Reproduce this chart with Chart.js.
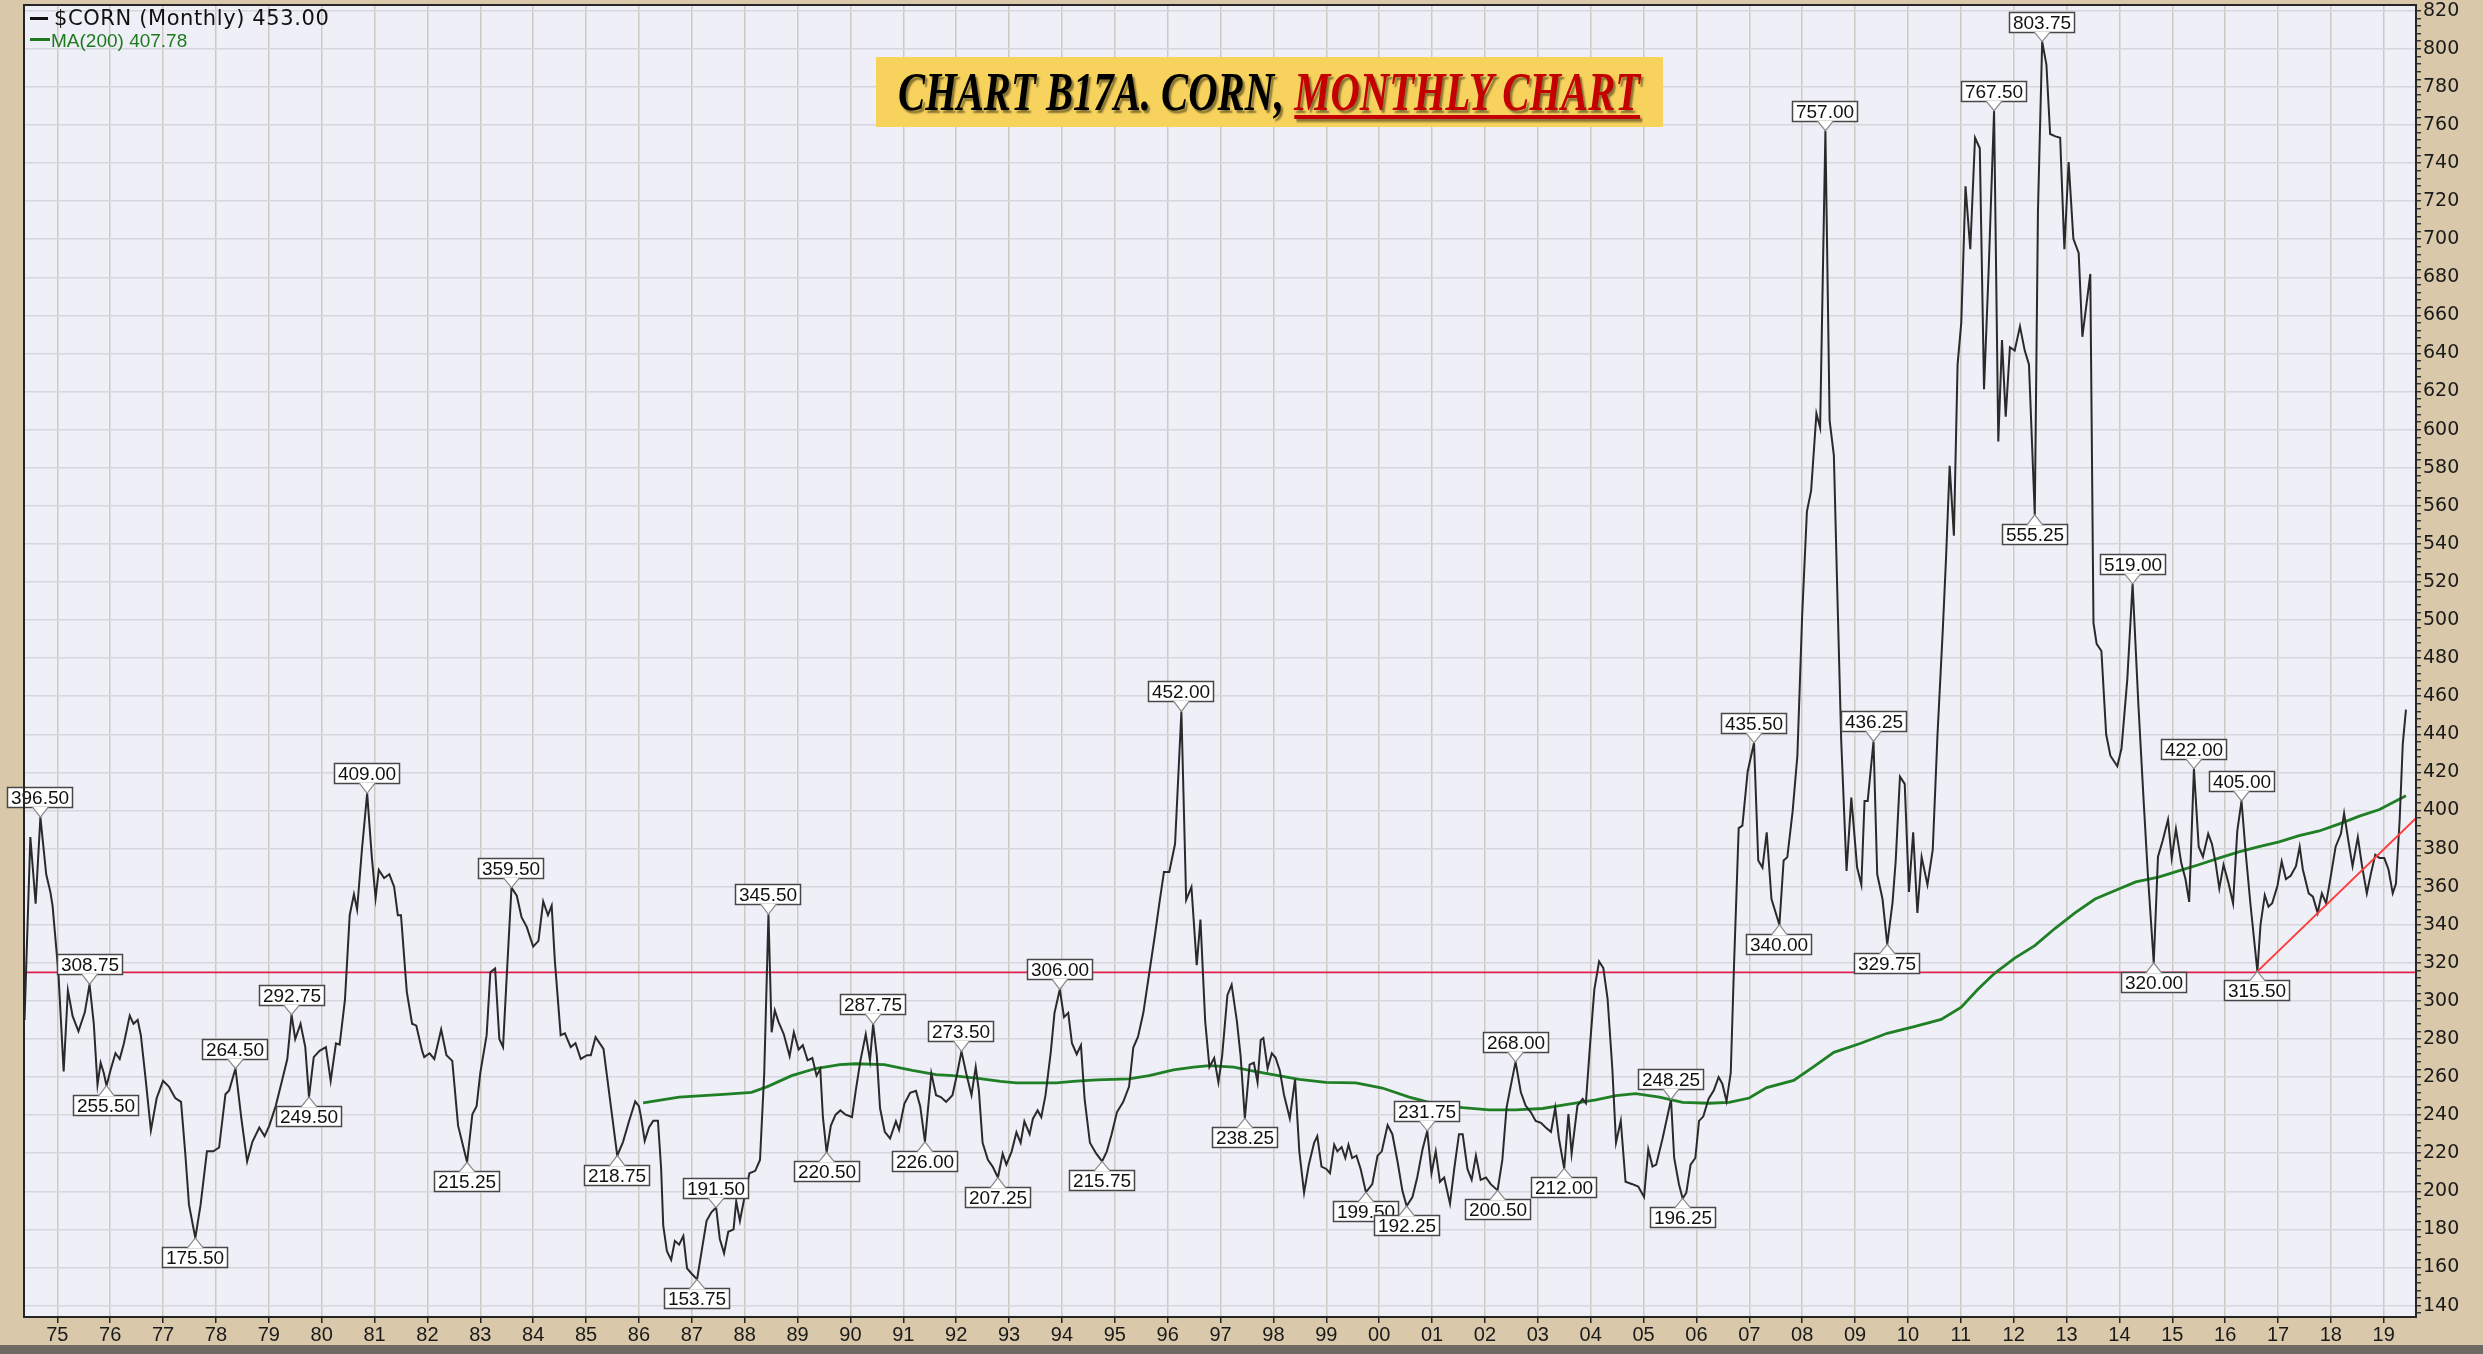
<!DOCTYPE html>
<html>
<head>
<meta charset="utf-8">
<title>$CORN Monthly</title>
<script src="https://cdn.jsdelivr.net/npm/chart.js@4.4.1/dist/chart.umd.min.js"></script>
<style>
  html, body { margin: 0; padding: 0; }
  body { width: 2483px; height: 1354px; background: #D9C9AA; position: relative; overflow: hidden; }
  #chart { position: absolute; left: 0; top: 0; }
  #footer { position: absolute; left: 0; top: 1345px; width: 2483px; height: 9px; background: #6E6A63; }
  .legend { position: absolute; white-space: nowrap; }
  #leg1 { left: 54px; top: 8px; font: 21px/21px "DejaVu Sans", sans-serif; letter-spacing: 0.6px; color: #111; }
  #leg2 { left: 51px; top: 31px; font: 19px/19px "Liberation Sans", Arial, sans-serif; color: #1E7A1E; }
  .dash { position: absolute; height: 3px; }
  #dash1 { left: 30px; top: 17px; width: 18px; background: #111; }
  #dash2 { left: 30px; top: 38px; width: 20px; background: #1E7A1E; }
  #title { position: absolute; left: 876px; top: 57px; width: 787px; height: 70px; background: #F7D35D;
           display: flex; align-items: center; justify-content: center; overflow: hidden; }
  #ttext { display: inline-block; white-space: pre; font: italic bold 54px "Liberation Serif", "DejaVu Serif", serif;
           text-shadow: 3px 3px 2px rgba(0,0,0,0.45); transform-origin: center center; }
  #ttext .blk { color: #000; }
  #ttext .red { color: #C40000; text-decoration: underline; text-decoration-thickness: 4px; text-underline-offset: 5px; }
</style>
</head>
<body>
<canvas id="chart" width="2483" height="1354"></canvas>
<div id="footer"></div>
<div class="dash" id="dash1"></div><div class="legend" id="leg1"></div>
<div class="dash" id="dash2"></div><div class="legend" id="leg2"></div>
<div id="title"><span id="ttext"><span class="blk">CHART B17A. CORN, </span><span class="red">MONTHLY CHART</span></span></div>
<script>
// Monthly corn closes (decimal year, cents per bushel)
const priceDates = [
  1974.38,1974.49,1974.59,1974.68,1974.79,1974.87,1974.91,1975.02,1975.12,1975.20,1975.29,1975.40,1975.52,1975.61,1975.69,1975.76,1975.82,1975.88,1975.93,
  1976.01,1976.10,1976.18,1976.26,1976.37,1976.44,1976.52,1976.58,1976.67,1976.77,1976.88,1977.00,1977.11,1977.23,1977.34,1977.42,1977.49,1977.61,1977.71,
  1977.83,1977.95,1978.06,1978.18,1978.25,1978.37,1978.48,1978.59,1978.69,1978.82,1978.92,1979.01,1979.13,1979.24,1979.35,1979.43,1979.50,1979.60,1979.69,
  1979.76,1979.85,1979.96,1980.08,1980.17,1980.27,1980.34,1980.44,1980.53,1980.61,1980.67,1980.76,1980.86,1980.95,1981.02,1981.08,1981.18,1981.28,1981.37,
  1981.44,1981.50,1981.56,1981.61,1981.71,1981.79,1981.90,1981.94,1982.04,1982.13,1982.26,1982.36,1982.47,1982.58,1982.75,1982.85,1982.93,1983.00,1983.12,
  1983.19,1983.28,1983.36,1983.43,1983.50,1983.59,1983.69,1983.78,1983.88,1984.00,1984.10,1984.19,1984.28,1984.35,1984.41,1984.52,1984.60,1984.71,1984.80,
  1984.90,1985.02,1985.09,1985.18,1985.33,1985.46,1985.59,1985.70,1985.81,1985.93,1986.00,
  1986.04,1986.11,1986.19,1986.27,1986.36,1986.42,1986.46,1986.53,1986.61,1986.68,1986.76,1986.84,1986.91,1986.99,1987.10,1987.20,1987.28,1987.37,1987.46,
  1987.53,1987.61,1987.69,1987.79,1987.84,1987.91,1987.99,1988.09,1988.20,1988.29,1988.37,1988.45,1988.51,1988.57,1988.64,1988.74,1988.85,1988.93,1989.02,
  1989.10,1989.19,1989.28,1989.36,1989.43,1989.48,1989.55,1989.63,1989.72,1989.81,1989.91,1990.03,1990.10,1990.19,1990.29,1990.37,1990.43,1990.50,1990.56,
  1990.65,1990.75,1990.86,1990.92,1991.02,1991.13,1991.24,1991.32,1991.41,1991.53,1991.62,1991.71,1991.81,1991.93,1992.02,1992.10,1992.19,1992.29,1992.37,
  1992.43,1992.50,1992.60,1992.69,1992.79,1992.88,1992.95,1993.05,1993.14,1993.22,1993.29,1993.39,1993.45,1993.54,1993.61,1993.69,1993.79,1993.86,1993.96,
  1994.04,1994.12,1994.19,1994.28,1994.36,1994.43,1994.53,1994.65,1994.76,1994.85,1994.94,1995.04,1995.16,1995.27,1995.35,1995.44,1995.54,1995.65,1995.76,
  1995.84,1995.93,1996.03,1996.14,1996.26,1996.35,1996.45,1996.55,1996.62,1996.71,1996.79,1996.88,1996.96,1997.03,1997.13,1997.21,1997.31,1997.38,1997.46,
  1997.55,1997.63,1997.70,1997.76,1997.81,1997.89,1997.97,
  1998.04,1998.12,1998.20,1998.31,1998.41,1998.49,1998.58,1998.67,1998.77,1998.83,1998.91,1999.00,1999.07,1999.15,1999.21,1999.29,1999.36,1999.42,1999.49,
  1999.57,1999.65,1999.75,1999.87,1999.97,2000.05,2000.16,2000.25,2000.35,2000.44,2000.52,2000.63,2000.72,2000.82,2000.91,2000.99,2001.07,2001.15,2001.23,
  2001.34,2001.42,2001.51,2001.58,2001.67,2001.75,2001.83,2001.92,2002.02,2002.11,2002.24,2002.33,2002.41,2002.49,2002.58,2002.68,2002.77,2002.87,2002.96,
  2003.06,2003.15,2003.25,2003.33,2003.40,2003.50,2003.58,2003.64,2003.75,2003.85,2003.91,2003.98,2004.07,2004.16,2004.24,2004.32,2004.41,2004.48,2004.57,
  2004.66,2004.79,2004.90,2005.01,2005.09,2005.17,2005.24,2005.36,2005.52,2005.58,2005.67,2005.74,2005.81,2005.89,2005.98,2006.05,2006.13,2006.23,2006.33,
  2006.42,2006.49,2006.57,2006.65,2006.71,2006.80,2006.87,2006.97,
  2007.09,2007.17,2007.25,2007.33,2007.42,2007.57,2007.65,2007.72,2007.82,2007.91,2008.00,2008.09,2008.17,2008.27,2008.34,2008.44,2008.52,2008.60,2008.67,
  2008.74,2008.84,2008.93,2009.04,2009.12,2009.18,2009.24,2009.35,2009.42,2009.52,2009.61,2009.71,2009.77,2009.85,2009.94,2010.02,2010.10,2010.18,2010.26,
  2010.37,2010.47,2010.56,2010.66,2010.72,2010.79,2010.87,2010.94,2011.01,2011.09,2011.18,2011.27,2011.36,2011.44,2011.53,2011.63,2011.71,2011.78,2011.85,
  2011.93,2012.02,2012.12,2012.21,2012.29,2012.40,2012.46,2012.54,2012.62,2012.69,2012.79,2012.88,2012.96,2013.04,2013.13,2013.23,2013.30,2013.45,2013.51,
  2013.57,2013.66,2013.75,2013.83,2013.96,2014.04,2014.15,2014.25,2014.36,2014.46,2014.54,2014.65,
  2014.73,2014.82,2014.92,2014.99,2015.07,2015.17,2015.25,2015.32,2015.41,2015.50,2015.58,2015.68,2015.75,2015.82,2015.89,2015.97,2016.06,2016.15,2016.23,
  2016.31,2016.39,2016.48,2016.61,2016.67,2016.75,2016.82,2016.89,2016.99,2017.07,2017.15,2017.24,2017.34,2017.41,2017.47,2017.58,2017.66,2017.75,2017.83,
  2017.91,2018.00,2018.09,2018.19,2018.25,2018.34,2018.41,2018.51,2018.59,2018.68,2018.76,2018.84,2018.92,2019.01,2019.09,2019.17,2019.23,2019.30,2019.36,
  2019.42
];
const priceValues = [
  290,386,351,396.5,366.5,357,350,315,263,305.5,292,284,294,308.75,288,256,267.5,262,255.5,
  264,272.5,269.5,277.75,292.25,288,290,282,259,232,249,258,255,249,247,220,193,175.5,193,
  221,221,223,251,253,264.5,238.5,215.75,226,233.5,229,234.5,244.75,257,269.5,292.75,280,288,275.75,
  249.5,270.5,273.75,275.75,258,277.75,277,300.5,345,356,348,379,409,375,354,368.75,364.5,366.5,360,
  345,345,323,304.75,288,287,273.75,270.5,272.5,269.5,285,271.5,268.5,234.5,215.25,240.5,244.75,262.25,282,
  315,317,280,275.75,313,359.5,355.25,344,338.75,328.5,331.5,352.25,345,350,321,282,283,275.75,277.75,
  269.5,271.5,271.5,281,274.75,246.75,218.75,226,236.5,247.25,244.75,
  239,226.5,233.5,237,237,212,182,168.5,164,174,172,176.5,159.5,157,153.75,171,184.5,189,191.5,
  175,167.5,178.75,180,194.75,184.5,196,209.5,210.75,216.5,262,345.5,283.5,295,289,282.5,271,283.5,274.5,
  276.75,268.75,270,260.75,264.25,239,220.5,234.5,240.25,242.5,240.25,239,252.75,268.75,282.5,268.75,287.75,271,243.75,
  231.25,227.75,236.75,232.25,246,251.75,252.75,244.75,226,262,250.5,249.5,247,250.5,262,273.5,262,250.5,265.25,
  252.75,225.5,216.5,213,207.25,219.75,214,221,231,225.5,236.75,230,238,242.5,239,250.5,273.25,293.75,306,
  291.5,293.75,277.75,272,276.75,248.25,225.5,219.75,215.75,221,230,241.5,247,255,275.5,281.25,293.75,314.25,334.75,
  350.75,367.75,367.75,382.5,452,353,359.75,318.75,342.75,289.25,265.25,270,257.25,271,303,308.5,289.25,271,238.25,
  266.5,267.5,257.25,279.5,280.5,264.5,272.5,
  270.25,263.5,250.75,238.25,258.75,221,199.25,214,225.5,229,213,211.75,209.5,224.5,221,223.25,217.5,224.5,217.5,
  218.75,211.75,199.5,203.75,218.75,221,234.75,230,215.25,200.25,192.25,197,207.25,222,231.75,209.5,221,205,207.25,
  193.5,211.75,230,230,211.75,206,218.75,206,207.25,203.75,200.5,216.5,244,255.5,268,252,245,241.5,237,
  236,233.5,231.25,244,227.75,212,240.5,219.75,245,248.5,246.25,273.75,306,320.75,317.25,301.25,264.5,225.5,237,
  205,203.75,202.5,197,222,213,214,227.75,248.25,217.5,203.75,196.25,199.25,214,217.5,237,239.25,248.5,253,
  260,256.5,247.25,262.25,317.25,390.75,392,420.5,
  435.5,373.75,370,388.5,353.5,340,373.75,375.5,399.5,428.75,502,557,568,608.5,601,757,604.75,586.5,509.5,
  436,368.25,406.75,370,361,405,405,436.25,366.5,353.5,329.75,351.75,373.75,417.75,414,357.25,388.5,346.25,375.5,
  361,379.25,439.75,494.75,531.5,581,544.25,634.25,656.25,727.75,694.75,753.25,747.75,621.25,685.5,767.5,593.75,647,606.75,
  643.25,641.5,654.25,641.5,634.25,555.25,714.75,803.75,791.75,755.25,754,753.25,694.75,740.5,700.25,692.75,648.75,681.75,498.5,
  487.5,483.75,440,428.75,423.25,432.5,469,519,455.25,404.5,365.75,320,
  375.75,384.25,395.25,375,390.25,372.5,364,352,422,381,375.75,387.75,382.5,372.5,359,371.5,362.25,351.25,389.25,
  405,377.5,350.5,315.5,340.25,355.5,349.5,351.25,360.5,373.25,364,365.75,370.75,381,369,356.5,354.75,346.25,356.5,
  351.25,365.75,381,387.75,398.5,382.5,370.75,386,370.75,356.5,367.25,376.75,375,375,369,356.5,361.5,394.5,435,
  453
];

// 200-month moving average
const maDates = [
  1986.08,1986.76,1987.67,1988.13,1988.43,1988.89,1989.34,1989.80,1990.10,1990.64,1991.17,1991.62,1991.93,1992.38,1992.84,1993.14,1993.90,1994.21,
  1994.66,1995.27,1995.65,1996.11,1996.49,1996.79,1997.25,1997.55,1998.04,1998.49,1998.99,1999.56,2000.06,2000.57,2001.07,2001.58,2002.08,2002.58,
  2003.09,2003.59,2004.10,2004.48,2004.85,2005.30,2005.74,2006.24,2006.62,2007.00,2007.33,2007.84,2008.22,2008.60,2009.11,2009.61,2010.12,2010.63,
  2011.01,2011.32,2011.64,2012.02,2012.40,2012.78,2013.16,2013.54,2013.92,2014.31,2014.74,2015.12,2015.50,2015.88,2016.26,2016.64,2017.02,2017.40,
  2017.78,2018.16,2018.54,2018.92,2019.42
];
const maValues = [
  246.5,249.5,251,252,255,260.75,264.5,266.5,267,266.5,263.5,261.25,260.75,259.5,257.75,257,257,257.75,
  258.5,259,260.75,263.75,265.25,266,265.25,263.5,261,258.75,257.25,257,254.25,249.5,245.75,244,242.75,242.75,
  243.5,245.75,248,250.25,251.25,249.5,246.75,246.25,246.75,249,254.5,258.25,265.5,273,277.75,283,286.5,290.25,
  296.75,306,314.5,322.5,329,338,346.25,353.5,358,362.5,365,368.25,371.5,375,378.25,381,383.5,386.75,
  389.25,393,397,400.5,407.78
];

// Support level and rising trend line
const supportLevel = 315;
const trendDates = [2016.61, 2019.61];
const trendValues = [315.5, 396];

// Annotated swing highs (H) and lows (L)
const pivotDates = [
  1974.68,1975.61,1975.93,1977.61,1978.37,1979.43,1979.76,1980.86,1982.75,1983.59,1985.59,1987.10,1987.46,1988.45,1989.55,
  1990.43,1991.41,1992.10,1992.79,1993.96,1994.76,1996.26,1997.46,1999.75,2000.52,2000.91,2002.24,2002.58,2003.50,2005.52,
  2005.74,2007.09,2007.57,2008.44,2009.35,2009.61,2011.63,2012.40,2012.54,2014.25,2014.65,2015.41,2016.31,2016.61
];
const pivotSides = [
  'H','H','L','L','H','H','L','H','L','H','L','L','H','H','L',
  'H','L','H','L','H','L','H','L','L','L','H','L','H','L','H',
  'L','H','L','H','H','L','H','L','H','H','L','H','H','L'
];

// Axis setup
const xMin = 1974.37, xMax = 2019.61;
const yMin = 134, yMax = 823;
const yearTicks = [];
for (let y = 1975; y <= 2019; y++) yearTicks.push(y);

const toXY = (xs, ys) => xs.map((x, i) => ({ x, y: ys[i] }));

// Legend text built from the last values of each series
const lastPrice = priceValues[priceValues.length - 1];
const lastMA = maValues[maValues.length - 1];
document.getElementById('leg1').textContent = '$CORN (Monthly) ' + lastPrice.toFixed(2);
document.getElementById('leg2').textContent = 'MA(200) ' + lastMA.toFixed(2);

// Fit the title banner text to its box
(function () {
  const t = document.getElementById('ttext');
  const w = t.offsetWidth;
  t.style.transform = 'scaleX(' + (742 / w).toFixed(4) + ')';
})();

function drawCallout(ctx, px, py, text, below) {
  ctx.save();
  ctx.font = '19px "Liberation Sans", Arial, sans-serif';
  const tw = ctx.measureText(text).width;
  const w = Math.round(tw + 8), h = 21, ph = 9, pw = 8;
  const bx = Math.round(px - w / 2);
  const by = Math.round(below ? py + ph : py - ph - h);
  ctx.fillStyle = '#FFFFFF';
  ctx.strokeStyle = '#474747';
  ctx.lineWidth = 1.5;
  ctx.fillRect(bx, by, w, h);
  ctx.strokeRect(bx + 0.5, by + 0.5, w - 1, h - 1);
  const baseY = below ? by + 1.2 : by + h - 1.2;
  ctx.beginPath();
  ctx.moveTo(px - pw, baseY);
  ctx.lineTo(px, py);
  ctx.lineTo(px + pw, baseY);
  ctx.closePath();
  ctx.fill();
  ctx.strokeStyle = '#8A8A8A';
  ctx.lineWidth = 1.2;
  ctx.beginPath();
  ctx.moveTo(px - pw, baseY);
  ctx.lineTo(px, py);
  ctx.lineTo(px + pw, baseY);
  ctx.stroke();
  ctx.fillStyle = '#111';
  ctx.textAlign = 'center';
  ctx.textBaseline = 'middle';
  ctx.fillText(text, bx + w / 2, by + h / 2 + 1);
  ctx.restore();
}

const chartDecor = {
  id: 'chartDecor',
  beforeDraw(chart) {
    const { ctx, chartArea: a } = chart;
    ctx.save();
    ctx.fillStyle = '#EEEFF7';
    ctx.fillRect(a.left, a.top, a.right - a.left, a.bottom - a.top);
    ctx.restore();
  },
  afterDatasetsDraw(chart) {
    const { ctx, scales } = chart;
    pivotDates.forEach((d, i) => {
      let idx = 0, best = Infinity;
      priceDates.forEach((pd, j) => { const dd = Math.abs(pd - d); if (dd < best) { best = dd; idx = j; } });
      const v = priceValues[idx];
      const px = scales.x.getPixelForValue(priceDates[idx]);
      const py = scales.y.getPixelForValue(v);
      drawCallout(ctx, px, py, v.toFixed(2), pivotSides[i] === 'L');
    });
  },
  afterDraw(chart) {
    const { ctx, chartArea: a } = chart;
    ctx.save();
    ctx.strokeStyle = '#262626';
    ctx.lineWidth = 2;
    ctx.strokeRect(a.left, a.top, a.right - a.left, a.bottom - a.top);
    ctx.restore();
  }
};

new Chart(document.getElementById('chart'), {
  type: 'line',
  data: {
    datasets: [
      { label: 'Trend', data: toXY(trendDates, trendValues), borderColor: '#FF3B3B', borderWidth: 2, pointRadius: 0, order: 0 },
      { label: '$CORN', data: toXY(priceDates, priceValues), borderColor: '#2A2A2A', borderWidth: 2, pointRadius: 0, order: 1 },
      { label: 'MA(200)', data: toXY(maDates, maValues), borderColor: '#1F7F25', borderWidth: 2.8, pointRadius: 0, order: 2 },
      { label: 'Support', data: [{ x: xMin, y: supportLevel }, { x: xMax, y: supportLevel }], borderColor: '#E0204E', borderWidth: 1.6, pointRadius: 0, order: 3 }
    ]
  },
  options: {
    responsive: false,
    animation: false,
    devicePixelRatio: 1,
    layout: { padding: { left: 24, top: 5, right: 0, bottom: 0 } },
    plugins: { legend: { display: false }, tooltip: { enabled: false } },
    elements: { line: { tension: 0, borderJoinStyle: 'miter' } },
    scales: {
      x: {
        type: 'linear', position: 'bottom', min: xMin, max: xMax,
        afterBuildTicks: (s) => { s.ticks = yearTicks.map(v => ({ value: v })); },
        afterFit: (s) => { s.height = 37; s.paddingLeft = 0; s.paddingRight = 0; },
        border: { display: false },
        grid: { color: '#CDCAC2', lineWidth: 1.5, tickLength: 6, tickColor: '#222', tickWidth: 1.5 },
        ticks: {
          autoSkip: false, maxRotation: 0, padding: 0, color: '#1A1A1A',
          font: { family: '"Liberation Sans", Arial, sans-serif', size: 20 },
          callback: (v) => String(v).slice(2)
        }
      },
      y: {
        type: 'linear', position: 'right', min: yMin, max: yMax,
        afterBuildTicks: (s) => { const t = []; for (let v = 136; v <= 820; v += 4) t.push({ value: v }); s.ticks = t; },
        afterFit: (s) => { s.width = 67; s.paddingTop = 0; s.paddingBottom = 0; },
        border: { display: false },
        grid: {
          color: (c) => (c.tick && c.tick.value % 20 === 0) ? '#D6D7DD' : 'rgba(0,0,0,0)',
          lineWidth: 1.5, tickLength: 5, tickColor: '#222', tickWidth: 1.3
        },
        ticks: {
          autoSkip: false, padding: 2, color: '#1A1A1A',
          font: { family: '"DejaVu Sans", sans-serif', size: 19 },
          callback: (v) => (v % 20 === 0 ? String(v) : '')
        }
      }
    }
  },
  plugins: [chartDecor]
});
</script>
</body>
</html>
